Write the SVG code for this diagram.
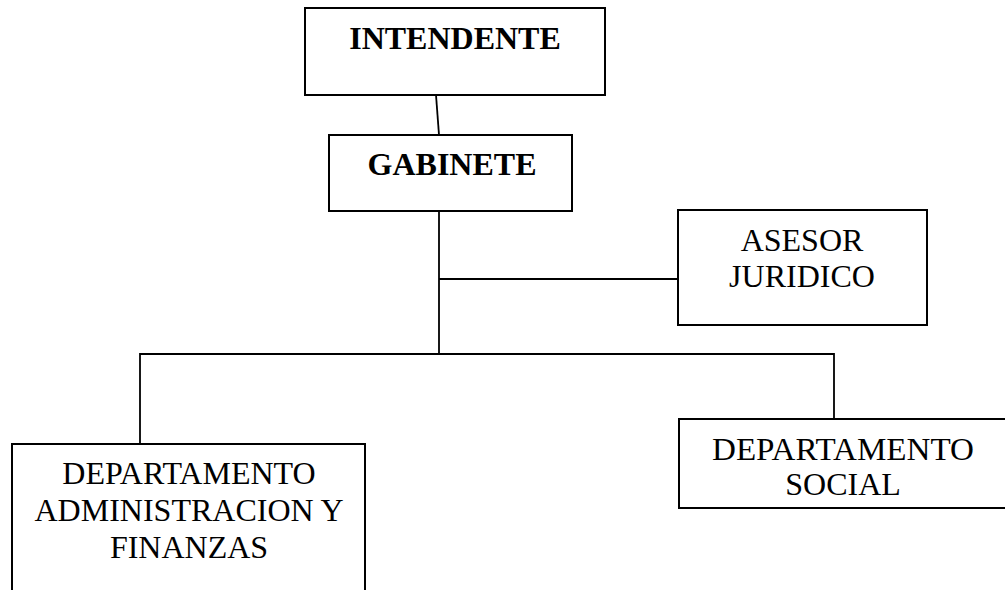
<svg xmlns="http://www.w3.org/2000/svg" width="1005" height="590" viewBox="0 0 1005 590">
<style>
.box{fill:#fff;stroke:#000;stroke-width:2}
.ln{fill:none;stroke:#000;stroke-width:1.8}
text{font-family:"Liberation Serif","Times New Roman",serif;font-size:32px;fill:#000;text-anchor:middle}
.b{font-weight:bold}
</style>
<rect width="1005" height="590" fill="#fff"/>
<g id="connectors">
<line class="ln" x1="436" y1="95" x2="439" y2="135"/>
<line class="ln" x1="439" y1="211" x2="439" y2="354"/>
<line class="ln" x1="439" y1="279" x2="678" y2="279"/>
<polyline class="ln" points="140,444 140,354 834,354 834,419"/>
</g>
<g id="intendente">
<rect class="box" x="305" y="8" width="300" height="87"/>
<text class="b" x="455" y="49">INTENDENTE</text>
</g>
<g id="gabinete">
<rect class="box" x="329" y="135" width="243" height="76"/>
<text class="b" x="452" y="175">GABINETE</text>
</g>
<g id="asesor">
<rect class="box" x="678" y="210" width="249" height="115"/>
<text x="802" y="251">ASESOR</text>
<text x="802" y="287">JURIDICO</text>
</g>
<g id="dep-admin">
<rect class="box" x="12" y="444" width="353" height="160"/>
<text x="189" y="484">DEPARTAMENTO</text>
<text x="189" y="521">ADMINISTRACION Y</text>
<text x="189" y="558">FINANZAS</text>
</g>
<g id="dep-social">
<rect class="box" x="679" y="419" width="330" height="89"/>
<text x="843" y="460" textLength="262" lengthAdjust="spacingAndGlyphs">DEPARTAMENTO</text>
<text x="843" y="495">SOCIAL</text>
</g>
</svg>
